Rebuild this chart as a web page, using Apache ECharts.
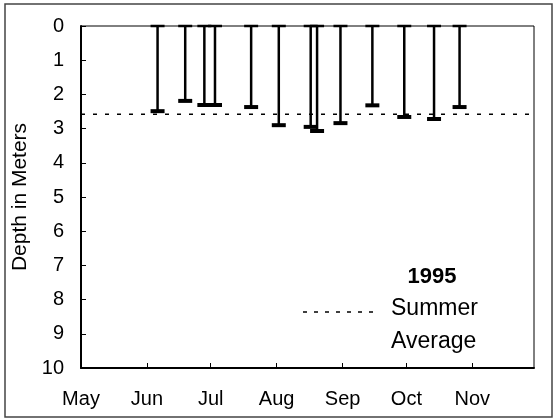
<!DOCTYPE html>
<html>
<head>
<meta charset="utf-8">
<script src="https://cdn.jsdelivr.net/npm/echarts@6/dist/echarts.min.js"></script>
<style>
html,body{margin:0;padding:0;background:#fff;}
#c{width:555px;height:420px;}
</style>
</head>
<body>
<div id="c"></div>
<script>
// Sampling dates (1995) and depth readings (m)
var sampleDates = ['1995-06-06','1995-06-19','1995-06-28','1995-07-03','1995-07-20','1995-08-02','1995-08-17','1995-08-20','1995-08-31','1995-09-15','1995-09-30','1995-10-14','1995-10-26'];
var depths = [2.49, 2.19, 2.31, 2.31, 2.37, 2.90, 2.95, 3.07, 2.84, 2.32, 2.66, 2.72, 2.37];
var summerAverage = 2.58;
var axisStart = '1995-05-01';
var axisEnd = '1995-11-30';
var yTicks = [0,1,2,3,4,5,6,7,8,9,10];
var legendYear = '1995';
var legendLines = ['Summer', 'Average'];

var FONT = 'Liberation Sans, Arial, sans-serif';
var chart = echarts.init(document.getElementById('c'), null, {renderer: 'canvas'});

var barData = sampleDates.map(function (d, i) { return [d, depths[i]]; });

var option = {
  animation: false,
  backgroundColor: '#fff',
  grid: {left: 81, right: 21, top: 26, bottom: 52, show: true, borderColor: '#000', borderWidth: 1, backgroundColor: 'transparent'},
  xAxis: {
    type: 'time',
    min: axisStart,
    max: axisEnd,
    minInterval: 28 * 86400000,
    maxInterval: 31 * 86400000,
    splitLine: {show: false},
    axisLine: {show: true, onZero: false, lineStyle: {color: '#000', width: 2}},
    axisTick: {show: true, inside: true, length: 5, lineStyle: {color: '#000', width: 1}},
    axisLabel: {formatter: '{MMM}', color: '#000', fontFamily: FONT, fontSize: 20, margin: 21, showMaxLabel: false, showMinLabel: true}
  },
  yAxis: {
    type: 'value',
    inverse: true,
    min: yTicks[0],
    max: yTicks[yTicks.length - 1],
    interval: 1,
    name: 'Depth in Meters',
    nameLocation: 'middle',
    nameRotate: 90,
    nameGap: 46,
    nameTextStyle: {color: '#000', fontFamily: FONT, fontSize: 21},
    splitLine: {show: false},
    axisLine: {show: true, lineStyle: {color: '#000', width: 2}},
    axisTick: {show: true, inside: true, length: 5, lineStyle: {color: '#000', width: 1}},
    axisLabel: {color: '#000', fontFamily: FONT, fontSize: 20, margin: 17}
  },
  series: [
    {
      type: 'line',
      data: [[axisStart, summerAverage], [axisEnd, summerAverage]],
      symbol: 'none',
      lineStyle: {color: '#000', width: 1.5, type: [4, 8]},
      z: 2
    },
    {
      type: 'custom',
      data: barData,
      z: 3,
      renderItem: function (params, api) {
        var top = api.coord([api.value(0), 0]);
        var bot = api.coord([api.value(0), api.value(1)]);
        var hw = 7;
        return {
          type: 'group',
          children: [
            {type: 'line', shape: {x1: top[0], y1: top[1], x2: bot[0], y2: bot[1]}, style: {stroke: '#000', lineWidth: 2.5}},
            {type: 'line', shape: {x1: top[0] - hw, y1: top[1], x2: top[0] + hw, y2: top[1]}, style: {stroke: '#000', lineWidth: 2.5}},
            {type: 'line', shape: {x1: bot[0] - hw, y1: bot[1], x2: bot[0] + hw, y2: bot[1]}, style: {stroke: '#000', lineWidth: 4}}
          ]
        };
      }
    }
  ],
  graphic: [
    {type: 'rect', shape: {x: 5, y: 4, width: 547, height: 413}, style: {fill: 'none', stroke: '#444', lineWidth: 1.5}, silent: true},
    {type: 'text', x: 432, y: 277, style: {text: legendYear, font: 'bold 22px ' + FONT, fill: '#000', align: 'center', verticalAlign: 'middle'}},
    {type: 'line', shape: {x1: 303, y1: 312, x2: 379, y2: 312}, style: {stroke: '#000', lineWidth: 1.5, lineDash: [4, 7]}},
    {type: 'text', x: 391, y: 309, style: {text: legendLines[0], font: '23px ' + FONT, fill: '#000', align: 'left', verticalAlign: 'middle'}},
    {type: 'text', x: 391, y: 342, style: {text: legendLines[1], font: '23px ' + FONT, fill: '#000', align: 'left', verticalAlign: 'middle'}}
  ]
};
chart.setOption(option);
</script>
</body>
</html>
